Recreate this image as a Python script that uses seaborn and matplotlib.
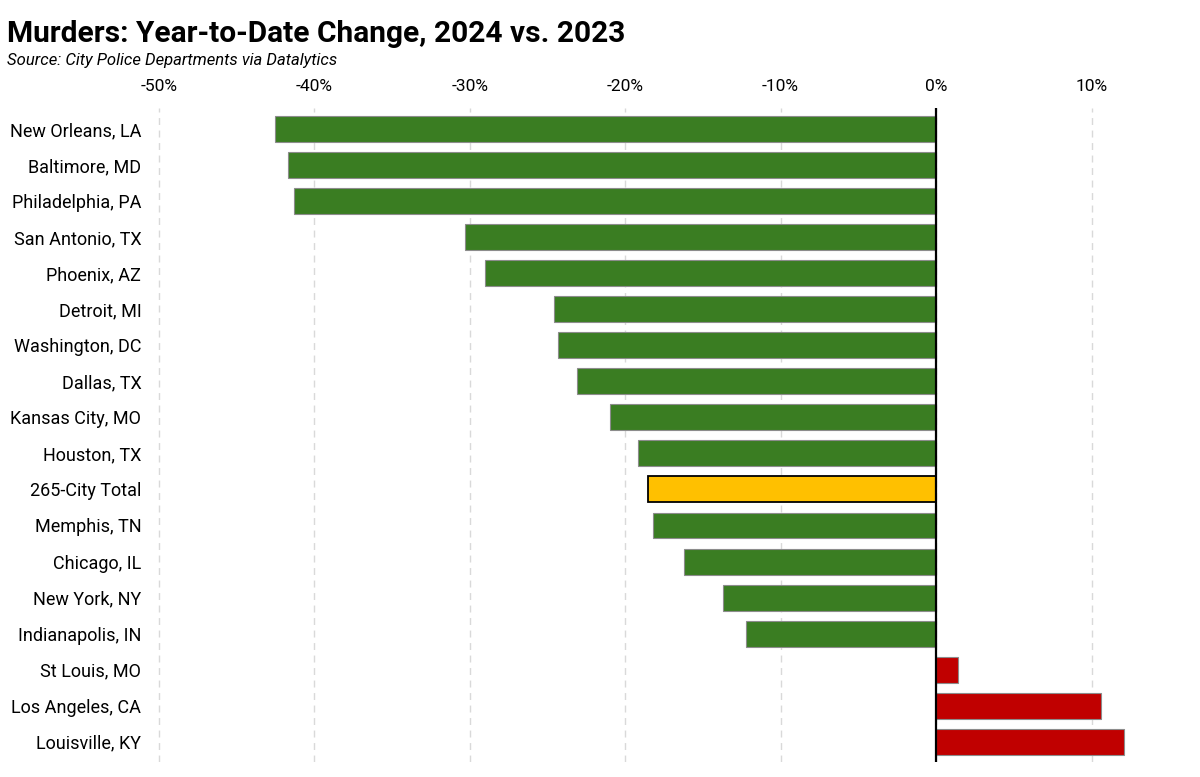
import matplotlib
matplotlib.use("Agg")
import matplotlib.pyplot as plt
import seaborn as sns
import pandas as pd

cities = ["New Orleans, LA", "Baltimore, MD", "Philadelphia, PA", "San Antonio, TX",
          "Phoenix, AZ", "Detroit, MI", "Washington, DC", "Dallas, TX",
          "Kansas City, MO", "Houston, TX", "265-City Total", "Memphis, TN",
          "Chicago, IL", "New York, NY", "Indianapolis, IN", "St Louis, MO",
          "Los Angeles, CA", "Louisville, KY"]
change_pct = [-42.5, -41.7, -41.3, -30.3, -29.0, -24.6, -24.3, -23.1, -21.0,
              -19.2, -18.5, -18.2, -16.2, -13.7, -12.2, 1.4, 10.6, 12.1]
ticks = [-50, -40, -30, -20, -10, 0, 10]

GREEN = "#3A7D22"
RED = "#C00000"
YELLOW = "#FFC000"

df = pd.DataFrame({"city": cities, "change": change_pct})
df["kind"] = ["total" if c == "265-City Total" else ("up" if v > 0 else "down")
              for c, v in zip(df["city"], df["change"])]

sns.set_style("white")
plt.rcParams["font.family"] = ["Roboto", "DejaVu Sans"]
plt.rcParams["text.color"] = "black"
plt.rcParams["xtick.color"] = "black"
plt.rcParams["ytick.color"] = "black"

fig = plt.figure(figsize=(12, 7.77), dpi=100)
ax = fig.add_axes([151 / 1200, 1 - 762 / 777, 1026 / 1200, 654 / 777])

sns.barplot(data=df, y="city", x="change", hue="kind", orient="h",
            palette={"down": GREEN, "up": RED, "total": YELLOW}, saturation=1,
            width=0.72, dodge=False, legend=False, ax=ax, zorder=3)

# patches come out grouped by hue, so match them back to rows by position
for bar in ax.patches:
    row = int(round(bar.get_y() + bar.get_height() / 2))
    if df["kind"].iloc[row] == "total":
        bar.set_edgecolor("black")
        bar.set_linewidth(1.3)
    else:
        bar.set_edgecolor("#8c8c8c")
        bar.set_linewidth(0.8)

ax.axvline(0, color="black", linewidth=1.6, zorder=4)
ax.set_xlim(-50.5, 15.5)
ax.set_ylim(len(cities) - 0.44, -0.58)
ax.set_xticks(ticks)
ax.set_xticklabels([f"{t}%" for t in ticks])
ax.xaxis.tick_top()
ax.tick_params(axis="y", length=0, labelsize=13, pad=7)
ax.tick_params(axis="x", length=0, labelsize=12.5, pad=10)
ax.grid(axis="x", color="#d9d9d9", linestyle=(0, (5, 4)), linewidth=1, zorder=0)
ax.grid(axis="y", visible=False)
ax.set_xlabel("")
ax.set_ylabel("")
for s in ax.spines.values():
    s.set_visible(False)

fig.text(0.006, 1 - 34 / 777, "Murders: Year-to-Date Change, 2024 vs. 2023",
         fontsize=21.5, fontweight="bold", va="center", ha="left")
fig.text(0.006, 1 - 60 / 777, "Source: City Police Departments via Datalytics",
         fontsize=12, fontstyle="italic", va="center", ha="left")

fig.savefig("out.png", dpi=100)
